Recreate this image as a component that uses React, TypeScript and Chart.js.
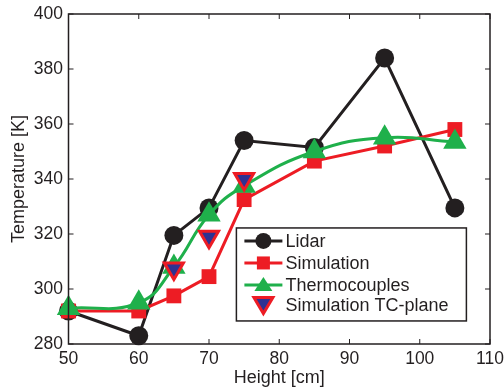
import React, { useEffect, useRef } from "react";
import { Chart, registerables } from "chart.js";

Chart.register(...registerables);

const heights = [50, 60, 65, 70, 75, 85, 95, 105];
const lidar = [292, 283, 319.5, 329.5, 354, 351.5, 384, 329.5];
const simulation = [292, 292, 297.5, 304.5, 332.5, 346.5, 352, 358];
const thermocouples = [293, 295, 308, 327, 337.5, 350, 355, 353.5];
const tcPlaneHeights = [65, 70, 75];
const tcPlane = [307.5, 319, 340];
const xTicks = [50, 60, 70, 80, 90, 100, 110];
const yTicks = [280, 300, 320, 340, 360, 380, 400];
const legendLabels = ["Lidar", "Simulation", "Thermocouples", "Simulation TC-plane"];
const xTitle = "Height [cm]";
const yTitle = "Temperature [K]";

const INK = "#231f20";
const RED = "#ed1c24";
const GREEN = "#1fb04b";
const BLUE = "#2e3192";
const FONT = "Liberation Sans, Arial, sans-serif";

const pts = (xs: number[], ys: number[]) => xs.map((x, i) => ({ x, y: ys[i] }));

const framePlugin = {
  id: "frame",
  afterDraw(chart: any) {
    const { ctx, chartArea: a, scales } = chart;
    ctx.save();
    ctx.strokeStyle = INK;
    ctx.lineWidth = 1.5;
    ctx.strokeRect(a.left, a.top, a.right - a.left, a.bottom - a.top);
    ctx.lineWidth = 1;
    const tl = 5;
    xTicks.forEach((v) => {
      const px = scales.x.getPixelForValue(v);
      ctx.beginPath();
      ctx.moveTo(px, a.bottom);
      ctx.lineTo(px, a.bottom - tl);
      ctx.moveTo(px, a.top);
      ctx.lineTo(px, a.top + tl);
      ctx.stroke();
    });
    yTicks.forEach((v) => {
      const py = scales.y.getPixelForValue(v);
      ctx.beginPath();
      ctx.moveTo(a.left, py);
      ctx.lineTo(a.left + tl, py);
      ctx.moveTo(a.right, py);
      ctx.lineTo(a.right - tl, py);
      ctx.stroke();
    });

    // axis titles
    ctx.fillStyle = INK;
    ctx.font = `18px ${FONT}`;
    ctx.textAlign = "center";
    ctx.textBaseline = "middle";
    ctx.fillText(xTitle, (a.left + a.right) / 2, a.bottom + 34);
    ctx.save();
    ctx.translate(19, (a.top + a.bottom) / 2);
    ctx.rotate(-Math.PI / 2);
    ctx.fillText(yTitle, 0, 0);
    ctx.restore();

    // legend
    const lx = scales.x.getPixelForValue(73.9);
    const ly = scales.y.getPixelForValue(322.2);
    const lw = 230;
    const lh = 93;
    ctx.fillStyle = "#fff";
    ctx.fillRect(lx, ly, lw, lh);
    ctx.lineWidth = 1.5;
    ctx.strokeStyle = INK;
    ctx.strokeRect(lx, ly, lw, lh);
    const rows = [13, 35, 57, 77];
    const sx0 = lx + 8;
    const sx1 = lx + 46;
    const mx = (sx0 + sx1) / 2;
    const colors = [INK, RED, GREEN];
    rows.forEach((dy, i) => {
      const y = ly + dy;
      if (i < 3) {
        ctx.strokeStyle = colors[i];
        ctx.lineWidth = 3;
        ctx.beginPath();
        ctx.moveTo(sx0, y);
        ctx.lineTo(sx1, y);
        ctx.stroke();
      }
      ctx.beginPath();
      if (i === 0) {
        ctx.fillStyle = INK;
        ctx.arc(mx, y, 8, 0, Math.PI * 2);
        ctx.fill();
      } else if (i === 1) {
        ctx.fillStyle = RED;
        ctx.fillRect(mx - 6.5, y - 6.5, 13, 13);
      } else if (i === 2) {
        ctx.fillStyle = GREEN;
        ctx.moveTo(mx, y - 8);
        ctx.lineTo(mx + 9, y + 6);
        ctx.lineTo(mx - 9, y + 6);
        ctx.closePath();
        ctx.fill();
      } else {
        ctx.fillStyle = BLUE;
        ctx.strokeStyle = RED;
        ctx.lineWidth = 3;
        ctx.moveTo(mx - 9.5, y - 7.5);
        ctx.lineTo(mx + 9.5, y - 7.5);
        ctx.lineTo(mx, y + 8.5);
        ctx.closePath();
        ctx.fill();
        ctx.stroke();
      }
      ctx.fillStyle = INK;
      ctx.font = `18px ${FONT}`;
      ctx.textAlign = "left";
      ctx.textBaseline = "middle";
      ctx.fillText(legendLabels[i], sx1 + 3, y + 1);
    });
    ctx.restore();
  },
};

export default function App() {
  const ref = useRef<HTMLCanvasElement>(null);
  useEffect(() => {
    if (!ref.current) return;
    const chart = new Chart(ref.current, {
      type: "scatter",
      data: {
        datasets: [
          {
            label: legendLabels[0],
            data: pts(heights, lidar),
            order: 3,
            showLine: true,
            borderColor: INK,
            backgroundColor: INK,
            borderWidth: 3,
            pointStyle: "circle",
            pointRadius: 9.5,
            pointBorderWidth: 0,
            tension: 0,
            clip: false,
          },
          {
            label: legendLabels[1],
            data: pts(heights, simulation),
            order: 2,
            showLine: true,
            borderColor: RED,
            backgroundColor: RED,
            borderWidth: 3,
            pointStyle: "rect",
            pointRadius: 10.5,
            pointBorderWidth: 0,
            tension: 0,
            clip: false,
          },
          {
            label: legendLabels[2],
            data: pts(heights, thermocouples),
            order: 1,
            showLine: true,
            borderColor: GREEN,
            backgroundColor: GREEN,
            borderWidth: 3,
            pointStyle: "triangle",
            pointRadius: 13.5,
            pointBorderWidth: 0,
            tension: 0.45,
            clip: false,
          },
          {
            label: legendLabels[3],
            data: pts(tcPlaneHeights, tcPlane),
            order: 0,
            showLine: false,
            borderColor: RED,
            backgroundColor: BLUE,
            pointStyle: "triangle",
            pointRotation: 180,
            pointRadius: 11,
            pointBorderWidth: 3,
            clip: false,
          },
        ],
      },
      options: {
        animation: false,
        responsive: false,
        layout: { padding: { left: 0, right: 13, top: 11, bottom: 0 } },
        plugins: { legend: { display: false }, tooltip: { enabled: false } },
        scales: {
          x: {
            type: "linear",
            min: 50,
            max: 110,
            grid: { display: false, drawTicks: false },
            border: { display: false },
            afterBuildTicks: (s: any) => {
              s.ticks = xTicks.map((v) => ({ value: v }));
            },
            afterFit: (s: any) => {
              s.height = 47;
              s.paddingLeft = 0;
              s.paddingRight = 0;
            },
            ticks: { color: INK, font: { size: 17.5, family: FONT }, padding: 5 },
          },
          y: {
            type: "linear",
            min: 280,
            max: 400,
            grid: { display: false, drawTicks: false },
            border: { display: false },
            afterBuildTicks: (s: any) => {
              s.ticks = yTicks.map((v) => ({ value: v }));
            },
            afterFit: (s: any) => {
              s.width = 68.5;
              s.paddingTop = 0;
              s.paddingBottom = 0;
            },
            ticks: { color: INK, font: { size: 17.5, family: FONT }, padding: 5.5 },
          },
        },
      },
      plugins: [framePlugin],
    } as any);
    return () => chart.destroy();
  }, []);
  return (
    <div style={{ position: "fixed", left: 0, top: 0, width: 504, height: 391, background: "#fff" }}>
      <canvas ref={ref} width={504} height={391} style={{ width: 504, height: 391 }} />
    </div>
  );
}
